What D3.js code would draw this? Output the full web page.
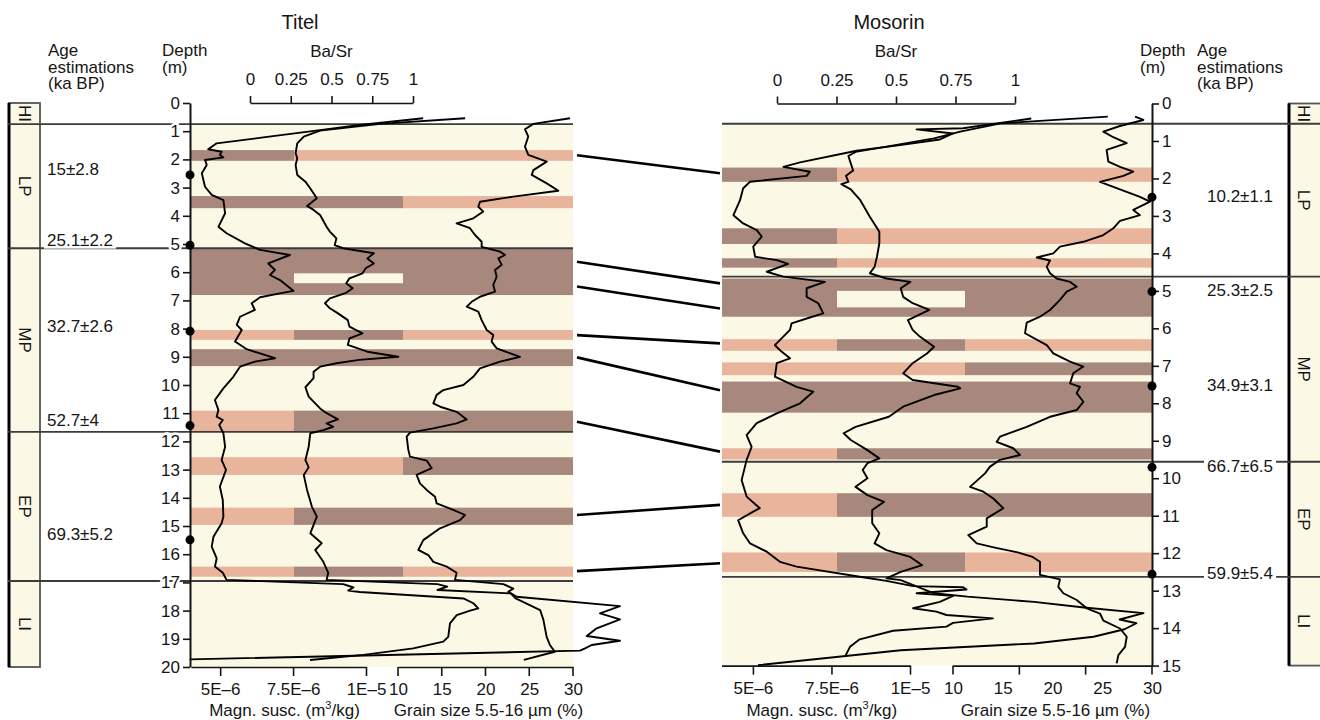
<!DOCTYPE html>
<html>
<head>
<meta charset="utf-8">
<script src="https://cdnjs.cloudflare.com/ajax/libs/d3/7.8.5/d3.min.js"></script>
<style>
  body { margin: 0; background: #fff; }
  svg { display: block; font-family: "Liberation Sans", Arial, sans-serif; }
</style>
</head>
<body>
<div id="chart"></div>
<script>
// ---- data (depth in m, magn. susc. in 1e-6 m3/kg, Ba/Sr ratio, grain size %) ----
const zoneNames = ["HI", "LP", "MP", "EP", "LI"];
const titelZoneDepths = [0, 0.75, 5.15, 11.66, 16.95, 20];
const mosorinZoneDepths = [0, 0.54, 4.62, 9.56, 12.63, 15];

// [top, bottom, magn column, Ba/Sr column, grain column]  L = light, D = dark, - = none
const titelBands = [
  [1.67, 2.05, "D", "L", "L"],
  [3.30, 3.73, "D", "D", "L"],
  [5.15, 6.81, "D", "D", "D"],
  [8.05, 8.40, "L", "D", "L"],
  [8.73, 9.33, "D", "D", "D"],
  [10.91, 11.66, "L", "D", "D"],
  [12.56, 13.19, "L", "L", "D"],
  [14.35, 14.96, "L", "D", "D"],
  [16.44, 16.80, "L", "D", "L"]
];
const titelGaps = [[6.04, 6.39, 1]];
const mosorinBands = [
  [1.71, 2.09, "D", "L", "L"],
  [3.33, 3.75, "D", "L", "L"],
  [4.13, 4.38, "D", "L", "L"],
  [4.67, 5.69, "D", "D", "D"],
  [6.29, 6.60, "L", "D", "L"],
  [6.91, 7.25, "L", "L", "D"],
  [7.42, 8.25, "D", "D", "D"],
  [9.20, 9.50, "L", "D", "D"],
  [10.40, 11.03, "L", "D", "D"],
  [11.98, 12.50, "L", "D", "L"]
];
const mosorinGaps = [[5.00, 5.44, 1]];

const titelAges = [[2.55, "15±2.8"], [5.04, "25.1±2.2"], [8.09, "32.7±2.6"], [11.44, "52.7±4"], [15.49, "69.3±5.2"]];
const mosorinAges = [[2.50, "10.2±1.1"], [5.02, "25.3±2.5"], [7.54, "34.9±3.1"], [9.71, "66.7±6.5"], [12.56, "59.9±5.4"]];

// [Titel depth, Mosorin depth]
const tieDepths = [[1.85, 1.86], [5.63, 4.80], [6.51, 5.47], [8.23, 6.40], [9.02, 7.65], [11.30, 9.29], [14.61, 10.71], [16.60, 12.27]];

const baSrTicks = [0, 0.25, 0.5, 0.75, 1];
const magnTicks = [5, 7.5, 10];
const magnTickLabels = ["5E–6", "7.5E–6", "1E–5"];
const grainTicks = [10, 15, 20, 25, 30];
const mosorinGrainTickMarks = [10, 16.67, 23.33, 30];

const titelMagn = [
  [0.54, 11.96], [0.78, 9.79], [0.96, 8.42], [1.22, 6.48], [1.43, 4.88], [1.64, 4.59], [1.73, 5.05], [1.84, 4.99],
  [1.93, 5.11], [2.02, 4.48], [2.20, 4.54], [2.49, 4.37], [2.97, 4.48], [3.26, 4.71], [3.44, 5.11], [3.91, 5.17],
  [4.39, 4.94], [4.62, 5.22], [4.98, 5.85], [5.21, 6.37], [5.39, 7.39], [5.69, 6.65], [5.92, 6.88], [6.10, 6.71],
  [6.28, 7.05], [6.66, 7.51], [6.75, 7.05], [6.89, 6.37], [7.10, 6.08], [7.34, 6.19], [7.58, 5.68], [7.87, 5.57],
  [8.05, 5.74], [8.46, 5.51], [8.73, 5.91], [9.05, 6.88], [9.17, 6.19], [9.35, 5.68], [9.71, 5.45], [10.12, 5.11],
  [10.53, 4.82], [10.89, 4.94], [11.12, 4.88], [11.24, 5.09], [11.42, 4.97], [11.71, 5.11], [12.19, 5.17], [12.66, 5.05],
  [13.01, 5.20], [13.60, 4.99], [14.08, 5.09], [14.67, 5.11], [14.90, 5.05], [15.38, 4.77], [15.73, 4.71], [16.15, 4.88],
  [16.44, 4.82], [16.66, 5.09], [16.91, 5.22], [17.06, 9.22], [17.18, 9.57], [17.29, 9.39], [17.34, 9.79], [17.57, 13.34],
  [17.74, 13.68], [17.92, 13.85], [18.00, 13.57], [18.16, 13.11], [18.45, 12.88], [18.93, 12.82], [19.10, 12.65],
  [19.34, 11.62], [19.57, 9.91], [19.75, 8.08]
];
const titelBaSr = [
  [0.54, 1.32], [0.74, 0.80], [0.98, 0.43], [1.19, 0.33], [1.43, 0.29], [1.78, 0.28], [1.96, 0.29], [2.20, 0.28],
  [2.55, 0.29], [2.79, 0.34], [3.03, 0.37], [3.38, 0.41], [3.65, 0.35], [3.79, 0.39], [3.97, 0.43], [4.39, 0.47],
  [4.56, 0.49], [4.80, 0.53], [5.04, 0.52], [5.15, 0.57], [5.33, 0.76], [5.51, 0.72], [5.69, 0.76], [5.86, 0.71],
  [6.04, 0.69], [6.22, 0.61], [6.39, 0.59], [6.57, 0.63], [6.73, 0.59], [6.93, 0.49], [7.10, 0.46], [7.28, 0.49],
  [7.46, 0.54], [7.70, 0.60], [7.93, 0.61], [8.17, 0.69], [8.35, 0.61], [8.58, 0.60], [8.82, 0.72], [9.00, 0.91],
  [9.11, 0.67], [9.23, 0.53], [9.35, 0.43], [9.53, 0.39], [9.76, 0.39], [10.08, 0.34], [10.41, 0.36], [10.83, 0.43],
  [11.00, 0.47], [11.22, 0.54], [11.36, 0.47], [11.48, 0.51], [11.60, 0.45], [11.71, 0.37], [12.19, 0.36], [12.66, 0.34],
  [12.92, 0.36], [13.19, 0.33], [13.72, 0.35], [14.32, 0.38], [14.67, 0.41], [14.96, 0.39], [15.26, 0.37], [15.61, 0.44],
  [15.85, 0.40], [16.27, 0.45], [16.66, 0.48], [16.91, 0.47], [17.06, 1.15], [17.15, 1.21], [17.27, 1.15], [17.39, 1.60],
  [17.57, 1.63], [17.98, 1.78], [18.33, 1.80], [18.93, 1.82], [19.22, 1.84], [19.46, 1.87], [19.75, 1.68]
];
const titelGrain = [
  [0.54, 29.66], [0.74, 25.47], [0.93, 24.51], [1.19, 24.89], [1.55, 24.51], [1.84, 24.89], [2.08, 27.0], [2.38, 25.47],
  [2.55, 25.28], [2.85, 27.0], [3.11, 28.32], [3.32, 23.18], [3.50, 19.37], [3.68, 19.18], [3.85, 19.75], [4.09, 18.61],
  [4.27, 16.7], [4.44, 18.23], [4.68, 18.8], [4.92, 19.56], [5.10, 19.56], [5.27, 21.66], [5.39, 22.23], [5.51, 21.47],
  [5.74, 21.85], [5.92, 21.09], [6.16, 21.28], [6.45, 20.89], [6.69, 21.09], [6.87, 19.37], [7.05, 18.42], [7.22, 17.85],
  [7.40, 19.18], [7.70, 19.56], [8.05, 20.14], [8.23, 20.89], [8.46, 20.7], [8.70, 21.28], [9.00, 23.94], [9.17, 21.66],
  [9.41, 19.37], [9.71, 18.6], [10.00, 17.47], [10.18, 15.18], [10.35, 14.42], [10.65, 14.04], [10.79, 14.99], [10.95, 16.7],
  [11.22, 17.85], [11.36, 16.7], [11.54, 14.04], [11.69, 11.37], [11.83, 10.99], [12.30, 11.18], [12.54, 11.37], [12.68, 13.28],
  [12.95, 13.85], [13.19, 12.13], [13.49, 12.51], [13.72, 13.28], [13.96, 14.23], [14.20, 14.42], [14.43, 16.32], [14.61, 17.66],
  [14.79, 17.09], [15.08, 14.8], [15.50, 12.89], [15.85, 12.32], [16.03, 13.46], [16.27, 14.04], [16.44, 15.57], [16.66, 16.7],
  [16.91, 16.51], [17.06, 22.04], [17.22, 23.18], [17.33, 22.61], [17.51, 23.56], [17.84, 35.37], [18.10, 33.09], [18.31, 35.37],
  [18.63, 32.71], [18.90, 31.57], [19.07, 35.37], [19.22, 32.14], [19.34, 31.37], [19.42, 30.8], [19.73, -13.8]
];

const mosorinMagn = [
  [0.40, 13.86], [0.66, 11.69], [0.69, 10.21], [0.80, 11.37], [0.96, 10.95], [1.11, 9.68], [1.26, 8.30], [1.57, 6.50],
  [1.69, 5.97], [1.82, 6.81], [1.93, 6.71], [2.09, 4.91], [2.26, 4.69], [2.58, 4.59], [2.98, 4.38], [3.20, 4.69],
  [3.38, 5.12], [3.55, 5.28], [3.82, 5.01], [4.09, 5.07], [4.18, 5.76], [4.28, 6.12], [4.49, 5.44], [4.62, 5.97],
  [4.76, 7.29], [4.93, 6.71], [5.16, 6.71], [5.33, 7.08], [5.60, 7.24], [5.71, 6.81], [5.87, 6.23], [6.04, 6.18],
  [6.45, 5.70], [6.62, 5.91], [6.80, 6.18], [6.93, 5.76], [7.29, 5.70], [7.56, 6.39], [7.69, 6.92], [8.00, 6.50],
  [8.27, 5.76], [8.53, 5.12], [8.85, 4.80], [9.16, 4.96], [9.51, 4.80], [10.05, 4.64], [10.49, 4.80], [10.80, 5.22],
  [10.89, 5.01], [11.12, 4.53], [11.47, 4.69], [11.74, 4.91], [11.96, 5.44], [12.23, 5.86], [12.36, 6.39], [12.63, 8.40],
  [12.74, 9.25], [12.88, 10.10], [12.91, 11.69], [12.97, 11.80], [13.07, 10.21], [13.14, 11.37], [13.30, 10.95],
  [13.47, 10.10], [13.56, 10.84], [13.65, 11.16], [13.74, 12.64], [13.86, 11.37], [13.96, 11.16], [14.07, 9.46],
  [14.30, 8.40], [14.50, 8.09], [14.76, 7.93]
];
const mosorinBaSr = [
  [0.35, 1.39], [0.53, 0.94], [0.75, 0.77], [0.93, 0.66], [1.15, 0.46], [1.29, 0.33], [1.40, 0.30], [1.60, 0.31],
  [1.79, 0.32], [1.93, 0.29], [2.09, 0.30], [2.15, 0.27], [2.29, 0.31], [2.58, 0.35], [3.02, 0.39], [3.42, 0.43],
  [3.73, 0.43], [4.09, 0.42], [4.36, 0.41], [4.53, 0.39], [4.67, 0.46], [4.76, 0.56], [4.93, 0.52], [5.16, 0.53],
  [5.33, 0.57], [5.51, 0.64], [5.78, 0.55], [6.04, 0.57], [6.22, 0.60], [6.49, 0.66], [6.67, 0.63], [6.93, 0.57],
  [7.20, 0.53], [7.38, 0.57], [7.56, 0.76], [7.60, 0.77], [7.78, 0.66], [8.09, 0.53], [8.36, 0.47], [8.63, 0.33],
  [8.80, 0.28], [8.98, 0.31], [9.25, 0.38], [9.47, 0.43], [9.60, 0.38], [9.78, 0.36], [10.00, 0.38], [10.23, 0.33],
  [10.45, 0.38], [10.63, 0.45], [10.85, 0.40], [11.20, 0.40], [11.47, 0.43], [11.74, 0.41], [11.92, 0.46], [12.10, 0.56],
  [12.32, 0.61], [12.50, 0.52], [12.67, 0.46], [12.72, 0.52], [13.07, 0.66], [13.16, 0.80], [13.30, 1.08], [13.45, 1.29],
  [13.60, 1.54], [13.77, 1.44], [13.87, 1.51], [14.03, 1.46], [14.23, 1.33], [14.41, 1.08], [14.59, 0.52], [14.99, -0.08]
];
const mosorinGrain = [
  [0.35, 28.3], [0.44, 29.13], [0.60, 26.78], [0.75, 25.11], [0.90, 26.11], [1.06, 27.46], [1.24, 25.44], [1.55, 25.61],
  [1.69, 26.78], [1.82, 28.12], [1.93, 27.12], [2.09, 24.77], [2.26, 26.45], [2.49, 28.79], [2.62, 29.80], [2.84, 28.12],
  [2.98, 28.79], [3.13, 26.78], [3.33, 26.11], [3.51, 25.11], [3.69, 23.10], [3.82, 20.75], [4.00, 20.08], [4.11, 18.41],
  [4.19, 19.75], [4.36, 19.42], [4.53, 19.75], [4.67, 20.42], [4.76, 21.76], [4.89, 22.43], [5.02, 21.43], [5.24, 20.75],
  [5.51, 19.75], [5.69, 18.74], [5.85, 17.41], [6.13, 17.24], [6.45, 19.42], [6.67, 20.08], [6.89, 21.76], [7.02, 23.10],
  [7.20, 22.09], [7.47, 21.76], [7.56, 22.76], [7.73, 22.43], [7.96, 23.10], [8.18, 22.43], [8.36, 19.75], [8.63, 17.41],
  [8.89, 14.72], [9.03, 14.39], [9.20, 16.06], [9.38, 16.73], [9.51, 14.72], [9.69, 13.72], [9.87, 13.22], [10.23, 11.71],
  [10.36, 13.05], [10.54, 14.05], [10.80, 15.06], [11.07, 13.39], [11.29, 13.39], [11.52, 11.54], [11.74, 12.38],
  [11.85, 14.2], [11.98, 16.5], [12.10, 18.0], [12.23, 18.74], [12.45, 18.74], [12.58, 18.74], [12.70, 20.75],
  [12.90, 20.58], [13.07, 21.09], [13.25, 22.43], [13.47, 23.44], [13.61, 24.77], [13.80, 25.11], [14.01, 26.78],
  [14.23, 27.46], [14.50, 27.29], [14.72, 26.62], [14.94, 26.45]
];

// ---- layout ----
const width = 1320, height = 720;
const FS = 17;
const colors = { cream: "#fcf8e6", L: "#e8b49c", D: "#a8887d", line: "#3c3c3c", ink: "#151515" };

const svg = d3.select("#chart").append("svg")
  .attr("width", width)
  .attr("height", height);

const sites = [
  {
    title: "Titel", titleX: 300, zones: titelZoneDepths, bands: titelBands, gaps: titelGaps, ages: titelAges,
    magn: titelMagn, basr: titelBaSr, grain: titelGrain,
    yRange: [103, 667], axisX: 190, right: false,
    plotX: [190, 573], split: [294, 403],
    magnRange: [191, 366], baRange: [250, 413], grainRange: [398, 573],
    lineX: [8, 573], ageBox: [9, 40], ageX: 47, ageDy: -5,
    depthHeadX: 162, ageHeadX: 48, grainMarks: grainTicks
  },
  {
    title: "Mosorin", titleX: 889, zones: mosorinZoneDepths, bands: mosorinBands, gaps: mosorinGaps, ages: mosorinAges,
    magn: mosorinMagn, basr: mosorinBaSr, grain: mosorinGrain,
    yRange: [103.5, 665.6], axisX: 1152, right: true,
    plotX: [722, 1152], split: [837, 965],
    magnRange: [721.5, 910], baRange: [777, 1015], grainRange: [953, 1152],
    lineX: [722, 1320], ageBox: [1289, 1330], ageX: 1207, ageDy: -1,
    depthHeadX: 1140, ageHeadX: 1197, grainMarks: mosorinGrainTickMarks
  }
];

function styleAxis(g) {
  g.attr("font-size", FS).attr("font-family", null);
  g.selectAll("path, line").attr("stroke", colors.ink).attr("stroke-width", 1.6);
  g.selectAll("text").attr("fill", colors.ink);
}

const scales = {};

sites.forEach(function(s) {
  const maxDepth = s.zones[s.zones.length - 1];
  const y = d3.scaleLinear().domain([0, maxDepth]).range(s.yRange);
  const xMagn = d3.scaleLinear().domain([4, 10]).range(s.magnRange);
  const xBa = d3.scaleLinear().domain([0, 1]).range(s.baRange);
  const xGrain = d3.scaleLinear().domain([10, 30]).range(s.grainRange);
  scales[s.title] = y;

  const g = svg.append("g");

  // cream background below the top boundary
  g.append("rect")
    .attr("x", s.plotX[0]).attr("width", s.plotX[1] - s.plotX[0])
    .attr("y", y(s.zones[1])).attr("height", y(maxDepth) - y(s.zones[1]))
    .attr("fill", colors.cream);

  // coloured bands, split in three columns
  const cols = [[s.plotX[0], s.split[0]], [s.split[0], s.split[1]], [s.split[1], s.plotX[1]]];
  s.bands.forEach(function(b) {
    for (let i = 0; i < 3; i++) {
      const code = b[i + 2];
      if (code === "-") continue;
      g.append("rect")
        .attr("x", cols[i][0]).attr("width", cols[i][1] - cols[i][0])
        .attr("y", y(b[0])).attr("height", y(b[1]) - y(b[0]))
        .attr("fill", colors[code]);
    }
  });
  s.gaps.forEach(function(gp) {
    const c = cols[gp[2]];
    g.append("rect")
      .attr("x", c[0]).attr("width", c[1] - c[0])
      .attr("y", y(gp[0])).attr("height", y(gp[1]) - y(gp[0]))
      .attr("fill", colors.cream);
  });

  // stage column
  g.append("rect")
    .attr("x", s.ageBox[0]).attr("y", y(0))
    .attr("width", s.ageBox[1] - s.ageBox[0]).attr("height", y(maxDepth) - y(0))
    .attr("fill", colors.cream).attr("stroke", "#555").attr("stroke-width", 1.8);
  g.append("line")
    .attr("x1", s.ageBox[0]).attr("x2", s.ageBox[0])
    .attr("y1", y(0)).attr("y2", y(maxDepth))
    .attr("stroke", "#000").attr("stroke-width", 3);

  zoneNames.forEach(function(name, i) {
    const cy = (y(s.zones[i]) + y(s.zones[i + 1])) / 2;
    const cx = (s.ageBox[0] + Math.min(s.ageBox[1], 1318)) / 2;
    g.append("text")
      .attr("x", cx).attr("y", cy)
      .attr("transform", "rotate(90," + cx + "," + cy + ")")
      .attr("text-anchor", "middle").attr("dominant-baseline", "central")
      .attr("font-size", FS).attr("fill", colors.ink)
      .text(name);
  });

  // zone boundaries
  g.selectAll(null).data(s.zones.slice(1, -1)).enter().append("line")
    .attr("x1", s.lineX[0]).attr("x2", s.lineX[1])
    .attr("y1", d => y(d)).attr("y2", d => y(d))
    .attr("stroke", colors.line).attr("stroke-width", 1.8);

  // curves
  const series = [[s.magn, xMagn], [s.basr, xBa], [s.grain, xGrain]];
  series.forEach(function(sr) {
    const line = d3.line().x(d => sr[1](d[1])).y(d => y(d[0]));
    g.append("path").datum(sr[0])
      .attr("d", line)
      .attr("fill", "none")
      .attr("stroke", "#000")
      .attr("stroke-width", 1.9)
      .attr("stroke-linejoin", "round");
  });

  // depth axis
  const depthAxis = (s.right ? d3.axisRight(y) : d3.axisLeft(y))
    .tickValues(d3.range(0, maxDepth + 1))
    .tickSize(7).tickSizeOuter(0).tickPadding(3);
  const ga = g.append("g").attr("transform", "translate(" + s.axisX + ",0)").call(depthAxis);
  styleAxis(ga);
  ga.select(".domain").attr("stroke-width", 2);
  ga.selectAll("text")
    .attr("paint-order", "stroke").attr("stroke", "#fff").attr("stroke-width", 5);

  // age dots and labels
  s.ages.forEach(function(a) {
    g.append("circle").attr("cx", s.axisX).attr("cy", y(a[0])).attr("r", 4.5).attr("fill", "#000");
    const t = g.append("text")
      .attr("x", s.ageX).attr("y", y(a[0]) + s.ageDy)
      .attr("dominant-baseline", "central")
      .attr("font-size", FS).attr("fill", colors.ink)
      .text(a[1]);
    const bb = t.node().getBBox();
    g.insert("rect", () => t.node())
      .attr("x", bb.x - 3).attr("y", bb.y + 2)
      .attr("width", bb.width + 6).attr("height", bb.height - 3)
      .attr("fill", "#fff");
  });

  // Ba/Sr top axis
  const gt = g.append("g").attr("transform", "translate(0," + y(0) + ")")
    .call(d3.axisTop(xBa).tickValues(baSrTicks).tickSize(7).tickSizeOuter(0).tickPadding(11)
      .tickFormat(d => String(d)));
  styleAxis(gt);
  g.append("text")
    .attr("x", (s.baRange[0] + s.baRange[1]) / 2).attr("y", 57)
    .attr("text-anchor", "middle").attr("font-size", FS).attr("fill", colors.ink)
    .text("Ba/Sr");

  // bottom axes
  const yb = y(maxDepth);
  const gm = g.append("g").attr("transform", "translate(0," + yb + ")")
    .call(d3.axisBottom(xMagn).tickValues(magnTicks).tickSize(9).tickSizeOuter(0).tickPadding(7)
      .tickFormat((d, i) => magnTickLabels[i]));
  styleAxis(gm);
  const gg = g.append("g").attr("transform", "translate(0," + yb + ")")
    .call(d3.axisBottom(xGrain).tickValues(grainTicks).tickSize(0).tickSizeOuter(0).tickPadding(16));
  styleAxis(gg);
  g.selectAll(null).data(s.grainMarks).enter().append("line")
    .attr("x1", d => xGrain(d)).attr("x2", d => xGrain(d))
    .attr("y1", yb).attr("y2", yb + 9)
    .attr("stroke", colors.ink).attr("stroke-width", 1.6);

  const magnTitle = g.append("text")
    .attr("x", (s.magnRange[0] + s.magnRange[1]) / 2 + 6).attr("y", 716)
    .attr("text-anchor", "middle").attr("font-size", FS).attr("fill", colors.ink);
  magnTitle.append("tspan").text("Magn. susc. (m");
  magnTitle.append("tspan").attr("dy", -7).attr("font-size", 11).text("3");
  magnTitle.append("tspan").attr("dy", 7).text("/kg)");
  g.append("text")
    .attr("x", (s.grainRange[0] + s.grainRange[1]) / 2 + 3).attr("y", 716)
    .attr("text-anchor", "middle").attr("font-size", FS).attr("fill", colors.ink)
    .text("Grain size 5.5-16 µm (%)");

  // headers
  g.append("text").attr("x", s.titleX).attr("y", 29)
    .attr("text-anchor", "middle").attr("font-size", 20).attr("fill", colors.ink)
    .text(s.title);
  ["Depth", "(m)"].forEach(function(t, i) {
    g.append("text").attr("x", s.depthHeadX).attr("y", 56 + i * 16.5)
      .attr("font-size", FS).attr("fill", colors.ink).text(t);
  });
  ["Age", "estimations", "(ka BP)"].forEach(function(t, i) {
    g.append("text").attr("x", s.ageHeadX).attr("y", 56 + i * 16.5)
      .attr("font-size", FS).attr("fill", colors.ink).text(t);
  });
});

// tie lines between the two profiles
const yT = scales["Titel"], yM = scales["Mosorin"];
svg.append("g").selectAll("line").data(tieDepths).enter().append("line")
  .attr("x1", 577).attr("y1", d => yT(d[0]))
  .attr("x2", 720).attr("y2", d => yM(d[1]))
  .attr("stroke", "#000").attr("stroke-width", 2.6);
</script>
</body>
</html>
